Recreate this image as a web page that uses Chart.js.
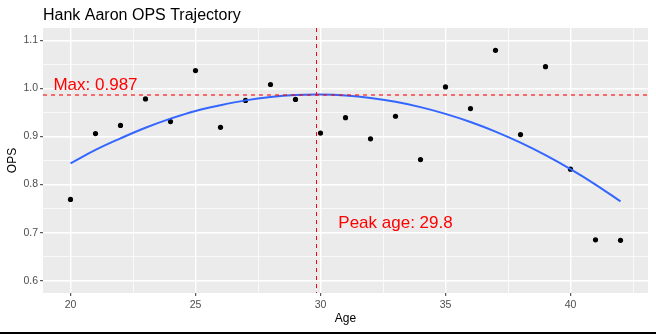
<!DOCTYPE html>
<html>
<head>
<meta charset="utf-8">
<script src="https://cdn.jsdelivr.net/npm/chart.js@4/dist/chart.umd.min.js"></script>
<style>
  body { margin: 0; background: #fff; }
  #wrap { position: relative; width: 656px; height: 334px; }
  #wrap::after { content: ''; position: absolute; left: 0; right: 0; bottom: 0; height: 2px; background: #000; }
</style>
</head>
<body>
<div id="wrap"><canvas id="opsChart" width="656" height="334"></canvas></div>
<script>
// season OPS by age
const ages = [20, 21, 22, 23, 24, 25, 26, 27, 28, 29, 30, 31, 32, 33, 34, 35, 36, 37, 38, 39, 40, 41, 42];
const ops = [0.769, 0.906, 0.923, 0.978, 0.931, 1.037, 0.919, 0.975, 1.008, 0.977, 0.907, 0.939,
             0.895, 0.942, 0.852, 1.003, 0.958, 1.079, 0.904, 1.045, 0.832, 0.685, 0.684];
// quadratic trend, read at each age
const fitOps = [0.844, 0.872, 0.896, 0.918, 0.937, 0.953, 0.965, 0.975, 0.982, 0.986, 0.987, 0.985,
                0.980, 0.972, 0.961, 0.947, 0.930, 0.910, 0.887, 0.861, 0.832, 0.800, 0.765];
const peakAge = 29.8;
const peakOps = 0.987;
const titleText = 'Hank Aaron OPS Trajectory';
// annotation labels: [text, x, y]
const notes = [
  ['Max: ' + peakOps, 21, 1.007],
  ['Peak age: ' + peakAge, 33, 0.72]
];

const FONT = "'Liberation Sans', Arial, sans-serif";

function isMajorX(v) { return Math.abs(v % 5) < 1e-6; }
function isMajorY(v) { return Math.abs(Math.round(v * 10) - v * 10) < 1e-6; }

const ggPlugin = {
  id: 'ggExtras',
  beforeDraw(chart) {
    const { ctx, chartArea: a } = chart;
    ctx.save();
    ctx.fillStyle = '#EBEBEB';
    ctx.fillRect(a.left, a.top, a.right - a.left, a.bottom - a.top);
    ctx.restore();
  },
  afterDatasetsDraw(chart) {
    const { ctx, chartArea: a, scales } = chart;
    const xs = scales.x, ys = scales.y;
    ctx.save();
    ctx.lineWidth = 1;
    ctx.setLineDash([4, 4]);
    // peak age
    const px = Math.round(xs.getPixelForValue(peakAge)) + 0.5;
    ctx.strokeStyle = '#FF0000';
    ctx.beginPath();
    ctx.moveTo(px, a.top);
    ctx.lineTo(px, a.bottom);
    ctx.stroke();
    // max OPS (softer, spread over two rows)
    const py = Math.round(ys.getPixelForValue(peakOps));
    ctx.strokeStyle = 'rgba(255,0,0,0.9)';
    ctx.lineWidth = 1.2;
    ctx.beginPath();
    ctx.moveTo(a.left, py);
    ctx.lineTo(a.right, py);
    ctx.stroke();
    ctx.setLineDash([]);

    ctx.fillStyle = '#FF0000';
    ctx.font = '17px ' + FONT;
    ctx.textAlign = 'center';
    ctx.textBaseline = 'middle';
    notes.forEach(n => {
      ctx.fillText(n[0], xs.getPixelForValue(n[1]), ys.getPixelForValue(n[2]));
    });
    ctx.restore();
  },
  afterDraw(chart) {
    const { ctx, chartArea: a } = chart;
    ctx.save();
    ctx.fillStyle = '#000';
    ctx.font = '16px ' + FONT;
    ctx.textAlign = 'left';
    ctx.textBaseline = 'alphabetic';
    ctx.fillText(titleText, a.left, 20);
    ctx.restore();
  }
};

new Chart(document.getElementById('opsChart'), {
  type: 'scatter',
  data: {
    datasets: [
      {
        type: 'line',
        data: ages.map((a, i) => ({ x: a, y: fitOps[i] })),
        borderColor: '#3366FF',
        borderWidth: 2,
        pointRadius: 0,
        tension: 0.4,
        fill: false
      },
      {
        data: ages.map((a, i) => ({ x: a, y: ops[i] })),
        backgroundColor: '#000',
        borderWidth: 0,
        pointRadius: 2.6
      }
    ]
  },
  options: {
    responsive: false,
    devicePixelRatio: 1,
    animation: false,
    layout: { padding: { left: 0, right: 8, top: 28, bottom: 0 } },
    plugins: { legend: { display: false }, tooltip: { enabled: false } },
    scales: {
      x: {
        type: 'linear',
        min: 18.9,
        max: 43.1,
        afterFit: s => { s.height = 41; },
        border: { display: false },
        grid: {
          color: '#FFFFFF',
          lineWidth: c => isMajorX(c.tick.value) ? 1.4 : 0.7,
          tickColor: c => isMajorX(c.tick.value) ? '#333333' : 'rgba(0,0,0,0)',
          tickWidth: 1,
          tickLength: 3
        },
        ticks: {
          stepSize: 2.5,
          includeBounds: false,
          autoSkip: false,
          maxRotation: 0,
          padding: 3,
          color: '#4D4D4D',
          font: { family: FONT, size: 10.5 },
          callback: v => isMajorX(v) ? String(v) : ''
        },
        title: {
          display: true,
          text: 'Age',
          color: '#000',
          font: { family: FONT, size: 12 },
          padding: { top: 0, bottom: 8 }
        }
      },
      y: {
        // slightly off the round range so ticks snap to multiples of 0.05
        min: 0.5745,
        max: 1.1255,
        afterFit: s => { s.width = 43; },
        border: { display: false },
        grid: {
          color: '#FFFFFF',
          lineWidth: c => isMajorY(c.tick.value) ? 1.4 : 0.7,
          tickColor: c => isMajorY(c.tick.value) ? '#333333' : 'rgba(0,0,0,0)',
          tickWidth: 1,
          tickLength: 3
        },
        ticks: {
          stepSize: 0.05,
          includeBounds: false,
          autoSkip: false,
          padding: 2,
          color: '#4D4D4D',
          font: { family: FONT, size: 10.5 },
          callback: v => isMajorY(v) ? v.toFixed(1) : ''
        },
        title: {
          display: true,
          text: 'OPS',
          color: '#000',
          font: { family: FONT, size: 12 },
          padding: { top: 5, bottom: 5 }
        }
      }
    }
  },
  plugins: [ggPlugin]
});
</script>
</body>
</html>
